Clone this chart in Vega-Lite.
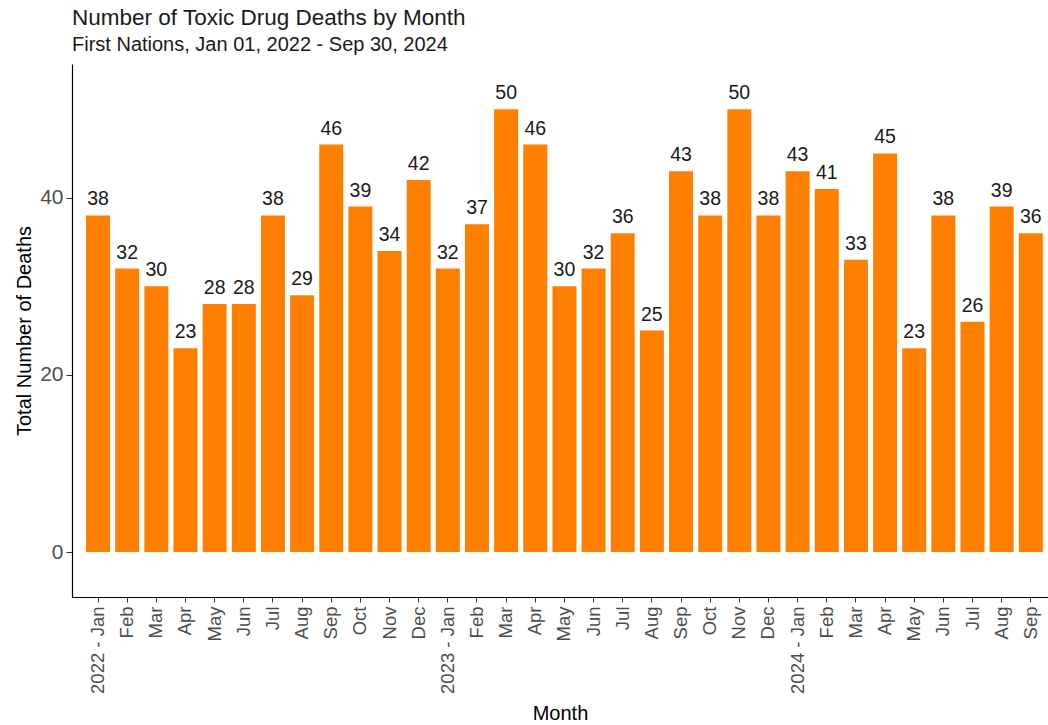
{
  "$schema": "https://vega.github.io/schema/vega-lite/v6.json",
  "width": 976,
  "height": 533,
  "autosize": {"type": "none"},
  "padding": {"left": 72, "top": 64, "right": 0, "bottom": 128},
  "background": "white",
  "config": {
    "view": {"stroke": null},
    "font": "Liberation Sans",
    "axis": {"grid": false, "domainColor": "#000000", "domainWidth": 1.2, "tickColor": "#333333", "tickSize": 5, "labelColor": "#4d4d4d", "labelFont": "Liberation Sans", "titleFont": "Liberation Sans", "titleFontWeight": "normal", "titleColor": "#000000"}
  },
  "title": {
    "text": "Number of Toxic Drug Deaths by Month",
    "subtitle": "First Nations, Jan 01, 2022 - Sep 30, 2024",
    "anchor": "start",
    "frame": "group",
    "fontSize": 22.5,
    "fontWeight": "normal",
    "color": "#1a1a1a",
    "subtitleFontSize": 20,
    "subtitleColor": "#1a1a1a",
    "subtitlePadding": 6,
    "offset": 9
  },
  "data": {
    "values": [
      {"month": "2022 - Jan", "deaths": 38},
      {"month": "2022 Feb", "deaths": 32},
      {"month": "2022 Mar", "deaths": 30},
      {"month": "2022 Apr", "deaths": 23},
      {"month": "2022 May", "deaths": 28},
      {"month": "2022 Jun", "deaths": 28},
      {"month": "2022 Jul", "deaths": 38},
      {"month": "2022 Aug", "deaths": 29},
      {"month": "2022 Sep", "deaths": 46},
      {"month": "2022 Oct", "deaths": 39},
      {"month": "2022 Nov", "deaths": 34},
      {"month": "2022 Dec", "deaths": 42},
      {"month": "2023 - Jan", "deaths": 32},
      {"month": "2023 Feb", "deaths": 37},
      {"month": "2023 Mar", "deaths": 50},
      {"month": "2023 Apr", "deaths": 46},
      {"month": "2023 May", "deaths": 30},
      {"month": "2023 Jun", "deaths": 32},
      {"month": "2023 Jul", "deaths": 36},
      {"month": "2023 Aug", "deaths": 25},
      {"month": "2023 Sep", "deaths": 43},
      {"month": "2023 Oct", "deaths": 38},
      {"month": "2023 Nov", "deaths": 50},
      {"month": "2023 Dec", "deaths": 38},
      {"month": "2024 - Jan", "deaths": 43},
      {"month": "2024 Feb", "deaths": 41},
      {"month": "2024 Mar", "deaths": 33},
      {"month": "2024 Apr", "deaths": 45},
      {"month": "2024 May", "deaths": 23},
      {"month": "2024 Jun", "deaths": 38},
      {"month": "2024 Jul", "deaths": 26},
      {"month": "2024 Aug", "deaths": 39},
      {"month": "2024 Sep", "deaths": 36}
    ]
  },
  "encoding": {
    "x": {
      "field": "month",
      "type": "nominal",
      "sort": null,
      "scale": {"paddingInner": 0.177, "paddingOuter": 0.33, "align": 0.73},
      "axis": {
        "title": "Month",
        "titleFontSize": 20,
        "titlePadding": 10,
        "labelAngle": -90,
        "labelAlign": "right",
        "labelBaseline": "middle",
        "labelFontSize": 18.5,
        "labelPadding": 4,
        "labelExpr": "indexof(datum.value, ' - ') >= 0 ? datum.value : slice(datum.value, 5)"
      }
    },
    "y": {
      "field": "deaths",
      "type": "quantitative",
      "scale": {"domain": [-5.08, 55.1], "nice": false, "zero": false},
      "axis": {
        "title": "Total Number of Deaths",
        "titleFontSize": 20,
        "titlePadding": 5,
        "values": [0, 20, 40],
        "labelFontSize": 21,
        "labelPadding": 3,
        "tickSize": 6
      }
    }
  },
  "layer": [
    {
      "mark": {"type": "bar", "color": "#FF8000"},
      "encoding": {"y": {"datum": 0}, "y2": {"field": "deaths"}}
    },
    {
      "mark": {"type": "text", "baseline": "alphabetic", "dy": -10, "fontSize": 19.5, "color": "#1a1a1a"},
      "encoding": {"text": {"field": "deaths", "type": "quantitative"}}
    }
  ]
}
